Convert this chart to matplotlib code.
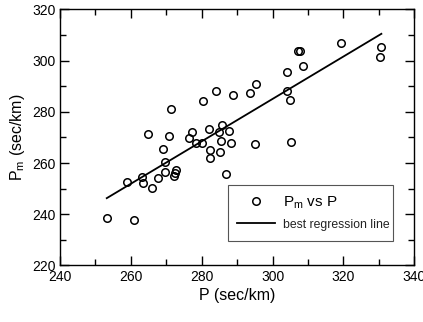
import matplotlib
matplotlib.use("Agg")
import matplotlib.pyplot as plt
from matplotlib.ticker import MultipleLocator

plt.rcParams['font.family'] = ['Liberation Sans', 'DejaVu Sans']
plt.rcParams['mathtext.fontset'] = 'custom'
plt.rcParams['mathtext.rm'] = 'Liberation Sans'
plt.rcParams['mathtext.it'] = 'Liberation Sans:italic'

# Data
p_values = [253.3, 261.0, 259.0, 263.1, 263.4, 266.0, 267.6, 269.6, 269.5, 269.0,
            264.9, 270.8, 271.4, 272.7, 272.5, 272.3, 277.2, 276.5, 278.5, 280.1,
            280.5, 283.9, 288.7, 282.1, 285.8, 284.9, 287.6, 285.5, 288.2, 282.3,
            285.2, 282.2, 286.8, 293.7, 295.4, 295.1, 305.1, 304.0, 304.2, 304.9,
            307.2, 307.8, 308.7, 319.3, 330.5, 330.2]
pm_values = [238.4, 237.6, 252.7, 254.4, 252.4, 250.3, 254.3, 256.7, 260.4, 265.4,
             271.4, 270.6, 281.2, 257.3, 256.1, 255.0, 272.3, 269.7, 267.7, 268.0,
             284.3, 288.1, 286.7, 273.5, 274.9, 272.3, 272.5, 268.75, 268.0, 265.3,
             264.5, 261.9, 255.9, 287.5, 291.0, 267.5, 268.2, 295.5, 288.3, 284.8,
             303.9, 303.8, 297.9, 307.0, 305.5, 301.3]
line_p = [253.2, 330.7]
line_pm = [246.3, 310.5]

fig = plt.figure(figsize=(4.23, 3.22), dpi=100)
ax = fig.add_axes([0.1418, 0.1755, 0.8377, 0.795])

ax.plot(p_values, pm_values, linestyle='none', marker='o', markersize=5.4,
        markerfacecolor='none', markeredgecolor='black', markeredgewidth=1.1,
        label=r'P$_\mathrm{m}$ vs P')
ax.plot(line_p, line_pm, color='black', linewidth=1.3, label='best regression line')

ax.set_xlim(240, 340)
ax.set_ylim(220, 320)
ax.xaxis.set_major_locator(MultipleLocator(20))
ax.xaxis.set_minor_locator(MultipleLocator(10))
ax.yaxis.set_major_locator(MultipleLocator(20))
ax.yaxis.set_minor_locator(MultipleLocator(10))
ax.tick_params(which='both', direction='in', top=True, right=True,
               labelsize=10, width=1.0, pad=3)
ax.tick_params(which='major', length=6.5)
ax.tick_params(which='minor', length=4.3)
for s in ax.spines.values():
    s.set_linewidth(1.0)

ax.set_xlabel('P (sec/km)', fontsize=11.5, labelpad=3)
ax.set_ylabel(r'P$_\mathrm{m}$ (sec/km)', fontsize=11.5, labelpad=4)

leg = ax.legend(loc='lower left', bbox_to_anchor=(0.475, 0.097, 0.464, 0.201),
                mode='expand', borderaxespad=0, fancybox=False,
                edgecolor='#555555', framealpha=1, handlelength=2.45,
                handletextpad=0.55, borderpad=0.6, labelspacing=0.45, fontsize=11)
leg.get_frame().set_linewidth(0.8)
leg.get_texts()[1].set_fontsize(8.8)
leg.get_texts()[1].set_color('#222222')

fig.savefig('out.png', dpi=100)
